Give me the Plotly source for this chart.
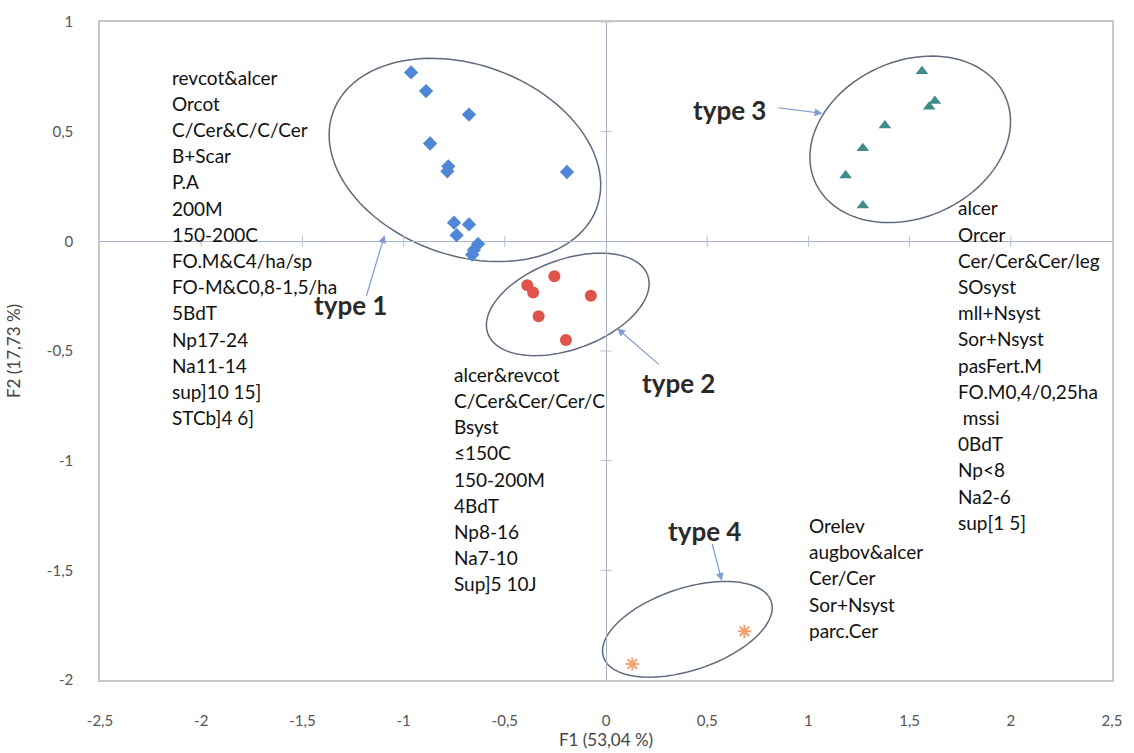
import numpy as np
import plotly.graph_objects as go

# ---------------- data ----------------
t1_x = [-0.963, -0.889, -0.677, -0.869, -0.779, -0.784, -0.193, -0.751, -0.677, -0.738, -0.632, -0.653, -0.661]
t1_y = [0.770, 0.685, 0.578, 0.446, 0.342, 0.319, 0.316, 0.085, 0.077, 0.028, -0.012, -0.039, -0.061]

t2_x = [-0.255, -0.389, -0.360, -0.075, -0.333, -0.198]
t2_y = [-0.159, -0.200, -0.233, -0.248, -0.342, -0.450]

t3_x = [1.561, 1.625, 1.597, 1.378, 1.269, 1.184, 1.269]
t3_y = [0.775, 0.640, 0.614, 0.528, 0.424, 0.300, 0.163]

t4_x = [0.130, 0.684]
t4_y = [-1.927, -1.778]

x_ticks = [-2.5, -2, -1.5, -1, -0.5, 0, 0.5, 1, 1.5, 2, 2.5]
x_ticktext = ["-2,5", "-2", "-1,5", "-1", "-0,5", "0", "0,5", "1", "1,5", "2", "2,5"]
y_ticks = [-2, -1.5, -1, -0.5, 0, 0.5, 1]
y_ticktext = ["-2", "-1,5", "-1", "-0,5", "0", "0,5", "1"]

x_title = "F1 (53,04 %)"
y_title = "F2 (17,73 %)"

block1 = ["revcot&alcer", "Orcot", "C/Cer&C/C/Cer", "B+Scar", "P.A", "200M", "150-200C",
          "FO.M&C4/ha/sp", "FO-M&C0,8-1,5/ha", "5BdT", "Np17-24", "Na11-14", "sup]10 15]", "STCb]4 6]"]
block2 = ["alcer&revcot", "C/Cer&Cer/Cer/C", "Bsyst", "≤150C", "150-200M", "4BdT", "Np8-16",
          "Na7-10", "Sup]5 10J"]
block3 = ["alcer", "Orcer", "Cer/Cer&Cer/leg", "SOsyst", "mll+Nsyst", "Sor+Nsyst", "pasFert.M",
          "FO.M0,4/0,25ha", " mssi", "0BdT", "Np<8", "Na2-6", "sup[1 5]"]
block4 = ["Orelev", "augbov&alcer", "Cer/Cer", "Sor+Nsyst", "parc.Cer"]
block_anchor_x = [-2.156, -0.763, 1.728, 0.991]
block_anchor_y = [0.749, -0.606, 0.152, -1.296]

type_names = ["type 1", "type 2", "type 3", "type 4"]
type_lab_x = [-1.261, 0.356, 0.612, 0.489]
type_lab_y = [-0.290, -0.648, 0.597, -1.320]
arrow_tail_x = [-1.186, 0.268, 0.843, 0.523]
arrow_tail_y = [-0.255, -0.567, 0.610, -1.373]
arrow_head_x = [-1.094, 0.056, 1.069, 0.572]
arrow_head_y = [0.028, -0.397, 0.583, -1.548]

# ellipses: centre (data units), semi-axes (px), rotation (deg, screen-up positive)
ell_cx = [-0.697, -0.189, 1.503, 0.402]
ell_cy = [0.371, -0.2875, 0.465, -1.769]
ell_a = [141.2, 85.6, 105.0, 88.9]
ell_b = [96.9, 45.6, 79.5, 41.7]
ell_ang = [-20.7, 20.5, 25.4, 18.7]

# ---------------- layout geometry ----------------
W, H = 1134, 753
ML, MR, MT, MB = 100, 17, 13, 70
XR = [-2.5, 2.5]
YR = [-2, 1]
pxx = (W - ML - MR) / (XR[1] - XR[0])
pxy = (H - MT - MB) / (YR[1] - YR[0])

fig = go.Figure()

# zero-line tick crosses
xt_inner = [v for v in x_ticks if v not in (XR[0], 0, XR[1])]
yt_inner = [v for v in y_ticks if v not in (YR[0], 0)]
fig.add_trace(go.Scatter(x=xt_inner, y=[0] * len(xt_inner),
                         mode="markers", hoverinfo="skip", showlegend=False,
                         marker=dict(symbol="line-ns-open", size=8, color="#b4c0d2",
                                     line=dict(color="#b4c0d2", width=1))))
fig.add_trace(go.Scatter(x=[0] * len(yt_inner), y=yt_inner,
                         mode="markers", hoverinfo="skip", showlegend=False,
                         marker=dict(symbol="line-ew-open", size=8, color="#b4c0d2",
                                     line=dict(color="#b4c0d2", width=1))))

# ellipses
shapes = []
for cx, cy, a, b, ang in zip(ell_cx, ell_cy, ell_a, ell_b, ell_ang):
    th = np.radians(ang)
    t = np.linspace(0, 2 * np.pi, 121)
    dx = a * np.cos(t) * np.cos(th) - b * np.sin(t) * np.sin(th)
    dy = a * np.cos(t) * np.sin(th) + b * np.sin(t) * np.cos(th)
    xs = cx + dx / pxx
    ys = cy + dy / pxy
    path = "M " + " L ".join(f"{x:.5f},{y:.5f}" for x, y in zip(xs, ys)) + " Z"
    shapes.append(dict(type="path", path=path, xref="x", yref="y",
                       line=dict(color="#5f6b7d", width=1.5), fillcolor="rgba(0,0,0,0)", layer="below"))

# points
fig.add_trace(go.Scatter(x=t1_x, y=t1_y, mode="markers", name="type 1", showlegend=False,
                         marker=dict(symbol="diamond", size=11, color="#4f86d6")))
fig.add_trace(go.Scatter(x=t2_x, y=t2_y, mode="markers", name="type 2", showlegend=False,
                         marker=dict(symbol="circle", size=12, color="#e0534a")))
fig.add_trace(go.Scatter(x=t3_x, y=t3_y, mode="markers", name="type 3", showlegend=False,
                         marker=dict(symbol="triangle-up", size=11, color="#3f8c8a")))
fig.add_trace(go.Scatter(x=t4_x, y=t4_y, mode="markers", name="type 4", showlegend=False,
                         marker=dict(symbol="asterisk-open", size=11, color="#f2a06e",
                                     line=dict(color="#f2a06e", width=2))))

annotations = []
txt_font = dict(family="Lato", size=19, color="#111111")
for block, bx, by in zip([block1, block2, block3, block4], block_anchor_x, block_anchor_y):
    for i, line in enumerate(block):
        annotations.append(dict(x=bx, y=by, xref="x", yref="y", text=line, showarrow=False,
                                xanchor="left", yanchor="middle", yshift=-26.2 * i, font=txt_font))

for name, lx, ly in zip(type_names, type_lab_x, type_lab_y):
    annotations.append(dict(x=lx, y=ly, xref="x", yref="y", text=f"<b>{name}</b>", showarrow=False,
                            xanchor="center", yanchor="middle",
                            font=dict(family="Lato", size=26, color="#2a2a2a")))

for tx, ty, hx, hy in zip(arrow_tail_x, arrow_tail_y, arrow_head_x, arrow_head_y):
    annotations.append(dict(x=hx, y=hy, ax=tx, ay=ty, xref="x", yref="y", axref="x", ayref="y",
                            text="", showarrow=True, arrowhead=2, arrowsize=1.3, arrowwidth=1.2,
                            arrowcolor="#7f9dd0"))

fig.update_layout(
    width=W, height=H,
    margin=dict(l=ML, r=MR, t=MT, b=MB),
    paper_bgcolor="white", plot_bgcolor="white",
    shapes=shapes, annotations=annotations,
    font=dict(family="Lato", color="#555555"),
)
fig.update_xaxes(range=XR, tickvals=x_ticks, ticktext=x_ticktext, showgrid=False,
                 zeroline=True, zerolinecolor="#a7b4c8", zerolinewidth=1,
                 showline=True, linecolor="#c8c8c8", linewidth=1.5, mirror=True,
                 ticks="", ticklabelstandoff=26, tickfont=dict(size=15, color="#555555"),
                 title=dict(text=x_title, font=dict(size=17, color="#444444"), standoff=0))
fig.update_yaxes(range=YR, tickvals=y_ticks, ticktext=y_ticktext, showgrid=False,
                 zeroline=True, zerolinecolor="#a7b4c8", zerolinewidth=1,
                 showline=True, linecolor="#c8c8c8", linewidth=1.5, mirror=True,
                 ticks="", ticklabelstandoff=22, tickfont=dict(size=15, color="#555555"),
                 title=dict(text=y_title, font=dict(size=17, color="#444444"), standoff=22))

fig.write_html("out.html")
